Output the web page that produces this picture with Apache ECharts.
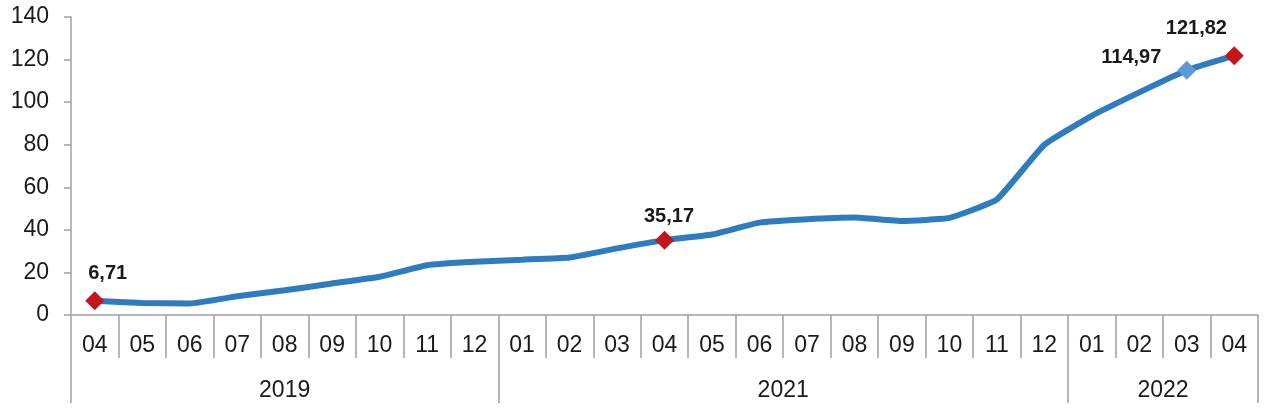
<!DOCTYPE html>
<html>
<head>
<meta charset="utf-8">
<script src="https://cdn.jsdelivr.net/npm/echarts@6/dist/echarts.min.js"></script>
<style>html,body{margin:0;padding:0;background:#fff;}#c{width:1280px;height:414px;}</style>
</head>
<body>
<div id="c"></div>
<script>
var months = ['04','05','06','07','08','09','10','11','12','01','02','03','04','05','06','07','08','09','10','11','12','01','02','03','04'];
var values = [6.71,5.6,5.4,8.8,11.6,14.8,18.0,23.4,25.0,26.0,27.0,31.3,35.17,37.8,43.4,45.0,45.8,44.2,45.6,54.3,80.0,93.6,104.6,114.97,121.82];
var years = ['2019','2021','2022'];
var yearCounts = [9,12,4];
var highlightRed = [0,12,24];
var highlightBlue = [23];
var labelOffsets = { 0: [3, -28], 12: [-11, -24], 23: [-76, -13], 24: [-59, -28] };

var boundaries = [0];
var yearCenters = [];
var acc = 0;
for (var i = 0; i < yearCounts.length; i++) {
  yearCenters.push(acc + yearCounts[i] / 2);
  acc += yearCounts[i];
  boundaries.push(acc);
}

var seriesData = values.map(function (v, i) {
  var item = { value: v };
  var red = highlightRed.indexOf(i) >= 0;
  var blue = highlightBlue.indexOf(i) >= 0;
  if (red || blue) {
    item.symbol = 'diamond';
    item.symbolSize = 19;
    item.itemStyle = { color: red ? '#c0161c' : '#5b9bd5' };
    item.label = {
      show: true,
      formatter: function (p) { return p.value.toFixed(2).replace('.', ','); },
      position: labelOffsets[i],
      fontFamily: 'Liberation Sans, Arial, sans-serif',
      fontWeight: 'bold',
      fontSize: 20,
      color: '#1a1a1a'
    };
  } else {
    item.symbol = 'none';
  }
  return item;
});

var chart = echarts.init(document.getElementById('c'));
chart.setOption({
  animation: false,
  backgroundColor: '#fff',
  grid: { left: 71, right: 22, top: 17, bottom: 99, containLabel: false },
  xAxis: [{
    type: 'category',
    data: months,
    boundaryGap: true,
    axisLine: { lineStyle: { color: '#a0a0a0', width: 1.5 } },
    axisTick: { show: true, length: 43, alignWithLabel: false, lineStyle: { color: '#a0a0a0', width: 1.5 } },
    axisLabel: { margin: 19, fontSize: 23, color: '#1a1a1a', fontFamily: 'Liberation Sans, Arial, sans-serif', interval: 0 },
    splitLine: { show: false }
  }, {
    type: 'value',
    min: 0,
    max: months.length,
    position: 'bottom',
    axisLine: { show: false },
    axisTick: { show: true, length: 88, customValues: boundaries, lineStyle: { color: '#a0a0a0', width: 1.5 } },
    axisLabel: {
      show: true,
      margin: 64,
      fontSize: 23,
      color: '#1a1a1a',
      fontFamily: 'Liberation Sans, Arial, sans-serif',
      customValues: yearCenters,
      formatter: function (v) {
        var idx = yearCenters.indexOf(v);
        return idx >= 0 ? years[idx] : '';
      }
    },
    splitLine: { show: false }
  }],
  yAxis: {
    type: 'value',
    min: 0,
    max: 140,
    interval: 20,
    axisLine: { show: true, lineStyle: { color: '#a0a0a0', width: 1.5 } },
    axisTick: { show: true, length: 7, lineStyle: { color: '#a0a0a0', width: 1.5 } },
    axisLabel: { margin: 22, fontSize: 23, color: '#1a1a1a', fontFamily: 'Liberation Sans, Arial, sans-serif' },
    splitLine: { show: false }
  },
  series: [{
    type: 'line',
    xAxisIndex: 0,
    data: seriesData,
    smooth: 0.12,
    lineStyle: { color: '#2f7bbf', width: 6 },
    itemStyle: { color: '#2f7bbf' },
    showSymbol: true,
    z: 3
  }]
});
</script>
</body>
</html>
